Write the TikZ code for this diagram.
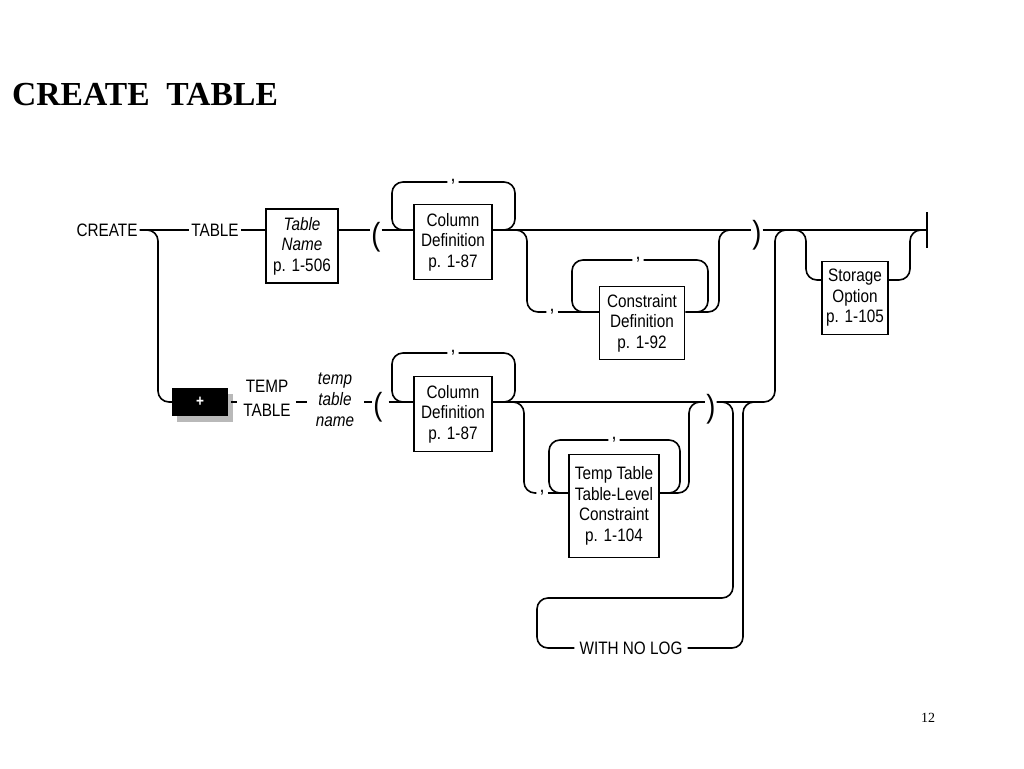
\documentclass[tikz,border=0pt]{standalone}
\usepackage{fontspec}
\setmainfont{Liberation Serif}
\newfontfamily\rrfont[FakeStretch=0.85]{Liberation Sans}
\usepackage{tikz}
\usetikzlibrary{positioning, calc, shadows}

\begin{document}
\begin{tikzpicture}[
    x=1pt, y=-1pt,
    rail/.style={line width=1.6pt, rounded corners=11pt},
    refbox/.style={rectangle, draw, line width=1.5pt, align=center, inner sep=1pt, font=\rrfont\fontsize{18}{20.5}\selectfont},
    word/.style={inner sep=2pt, align=center, font=\rrfont\fontsize{18}{24}\selectfont},
    comma/.style={inner sep=3pt, font=\rrfont\fontsize{21}{21}\selectfont},
    paren/.style={inner sep=1pt, font=\rrfont\fontsize{32}{32}\selectfont},
]

\fill[white] (0,0) rectangle (1024,768);
\useasboundingbox (0,0) rectangle (1024,768);

\node[anchor=west, inner sep=0pt, font=\bfseries\fontsize{33.6}{34}\selectfont] (title) at (12,95) {CREATE\ \ TABLE};

% top row
\node[word] (create) at (107,230) {CREATE};
\node[word] (table) at (215,230) {TABLE};
\node[refbox, minimum width=72pt, minimum height=74pt] (tabname) at (302,246) {\textit{Table}\\\textit{Name}\\p. 1-506};
\node[paren] (lpar1) at (376,237) {(};
\node[refbox, minimum width=78pt, minimum height=75pt] (coldef1) at (453,242) {Column\\Definition\\p. 1-87};
\node[comma] (cm1) at (453,182) {,};
\node[comma] (cm2) at (552,312) {,};
\node[refbox, minimum width=85pt, minimum height=73pt] (condef) at (642,323) {Constraint\\Definition\\p. 1-92};
\node[comma] (cm3) at (638,260) {,};
\node[paren] (rpar1) at (757,235) {)};
\node[refbox, minimum width=66pt, minimum height=73pt] (storage) at (855,298) {Storage\\Option\\p. 1-105};
\coordinate (stop) at (927,230);

% bottom row
\node[fill=black, minimum width=56pt, minimum height=28pt, inner sep=0pt,
      drop shadow={shadow xshift=5pt, shadow yshift=-6pt, fill=gray!55, opacity=1}] (plus) at (200,402)
      {\color{white}\rrfont\bfseries\fontsize{16}{16}\selectfont +};
\node[word] (temp) at (267,398) {TEMP\\TABLE};
\node[word, font=\rrfont\itshape\fontsize{18}{21}\selectfont] (tempname) at (335,400) {temp\\table\\name};
\node[paren] (lpar2) at (378,407) {(};
\node[refbox, minimum width=78pt, minimum height=75pt] (coldef2) at (453,414) {Column\\Definition\\p. 1-87};
\node[comma] (cm4) at (453,353) {,};
\node[comma] (cm5) at (542,493) {,};
\node[refbox, minimum width=90pt, minimum height=103pt] (ttconst) at (614,506) {Temp Table\\Table-Level\\Constraint\\p. 1-104};
\node[comma] (cm6) at (614,440) {,};
\node[paren] (rpar2) at (711,409) {)};
\node[word, inner sep=5pt] (nolog) at (631,648) {WITH NO LOG};

\node[font=\fontsize{14}{14}\selectfont] (page) at (928,718) {12};

% junctions on the rails
\coordinate (j1) at (403,230);
\coordinate (j2) at (504,230);
\coordinate (j3) at (732,230);
\coordinate (j4) at (790,230);
\coordinate (j5) at (922,230);
\coordinate (m1) at (583,312);
\coordinate (m2) at (697,312);
\coordinate (k1) at (403,402);
\coordinate (k2) at (504,402);
\coordinate (k3) at (702,402);
\coordinate (k4) at (722,402);
\coordinate (k5) at (757,402);
\coordinate (n1) at (562,493);
\coordinate (n2) at (668,493);

% top rail
\draw[rail] (create) -- (table);
\draw[rail] (table.east) -- (table.east -| tabname.west);
\draw[rail] (tabname.east |- table) -- (lpar1.west |- table);
\draw[rail] (lpar1.east |- table) -- (coldef1.west |- table);
\draw[rail] (coldef1.east |- table) -- (rpar1.west |- table);
\draw[rail] (rpar1.east |- table) -- (stop);
\draw[line width=1.6pt] ($(stop)+(0,-18)$) -- ($(stop)+(0,18)$);

\draw[rail] (j1) -| (392,182) -- (cm1.west);
\draw[rail] (cm1.east) -| (515,230) -- (j2);
\draw[rail] (j2) -| (527,312) -- (cm2.west);
\draw[rail] (cm2.east) -- (condef.west |- cm2);
\draw[rail] (m1) -| (572,260) -- (cm3.west);
\draw[rail] (cm3.east) -| (708,312) -- (m2);
\draw[rail] (condef.east |- cm2) -| (719,230) -- (j3);

\draw[rail] (j4) -| (806,280) -- ([yshift=18pt]storage.west);
\draw[rail] ([yshift=18pt]storage.east) -| (910,230) -- (j5);

% CREATE down to the TEMP branch
\draw[rail] (create.east) -| (158,402) -- (plus.west);

% bottom rail
\draw[rail, shorten <=3pt, shorten >=4pt] (plus.east) -- (plus.east -| temp.west);
\draw[rail, shorten <=3pt, shorten >=7pt] (temp.east |- plus) -- (tempname.west |- plus);
\draw[rail, shorten <=8pt] (tempname.east |- plus) -- (lpar2.west |- plus);
\draw[rail, shorten <=5pt] (lpar2.east |- plus) -- (coldef2.west |- plus);
\draw[rail] (coldef2.east |- plus) -- (rpar2.west |- plus);

\draw[rail] (k1) -| (392,353) -- (cm4.west);
\draw[rail] (cm4.east) -| (515,402) -- (k2);
\draw[rail] (k2) -| (524,493) -- (cm5.west);
\draw[rail] (cm5.east) -- (ttconst.west |- cm5);
\draw[rail] (n1) -| (549,440) -- (cm6.west);
\draw[rail] (cm6.east) -| (680,493) -- (n2);
\draw[rail] (ttconst.east |- cm5) -| (689,402) -- (k3);

\draw[rail] (rpar2.east |- plus) -| (775,230) -- (j4);

% WITH NO LOG option
\draw[rail] (k4) -| (733,598) -| (537,648) -- (nolog.west);
\draw[rail] (nolog.east) -| (743,402) -- (k5);

\end{tikzpicture}
\end{document}
